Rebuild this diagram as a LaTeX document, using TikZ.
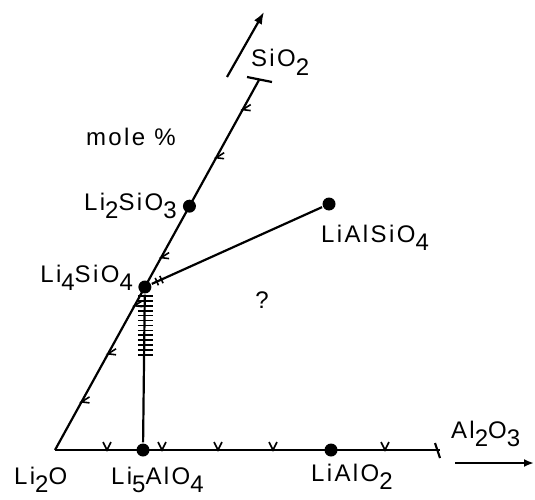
\documentclass[tikz,border=0pt]{standalone}
\usepackage{fontspec}
\setmainfont{Liberation Sans}[LetterSpace=10]
\usetikzlibrary{calc,arrows.meta}
\newcommand\sub[1]{\raisebox{-0.36em}{#1}}

\begin{document}
\begin{tikzpicture}[
	x=1pt, y=1pt,
	line width=2.2pt,
	every node/.style = {font=\fontsize{24}{24}\selectfont, inner sep=0pt},
	phase/.style      = {circle, fill=black, minimum size=13pt, inner sep=0pt},
	chem/.style       = {anchor=base west},
	thin tick/.style  = {line width=1.6pt},
	vmark/.pic        = {\draw[thin tick] (-4,8) -- (0,0) -- (4,8);},
	lmark/.pic        = {\draw[thin tick] (8,5) -- (0,0) -- (8,-1);}
	]
	\useasboundingbox (0,0) rectangle (535,499);
	
	% ===================== Axes =====================
	\coordinate (li2o)  at (55,49);
	\coordinate (sio2)  at (259,419);
	\coordinate (al2o3) at (440,49);
	
	\draw (li2o) -- (sio2);
	\draw (li2o) -- (al2o3);
	\draw ([shift={(-12,3)}]sio2) -- ([shift={(13,-2)}]sio2);
	\draw ([shift={(-5,7)}]al2o3) -- ([shift={(0,-8)}]al2o3);
	
	\foreach \t in {0.13,0.26,0.39,0.52,0.79,0.92}
		\pic at ($(li2o)!\t!(sio2)$) {lmark};
	\foreach \x in {107,162,218,273,385}
		\pic at (\x,49) {vmark};
	
	% ===================== Phases =====================
	\node[phase] (li2sio3)  at ($(li2o)!0.659!(sio2)$) {};
	\node[phase] (li4sio4)  at ($(li2o)!0.4405!(sio2)$) {};
	\node[phase] (lialsio4) at (329,295) {};
	\node[phase] (li5alo4)  at (143,49) {};
	\node[phase] (lialo2)   at (331,49) {};
	
	\draw (li4sio4) -- (lialsio4);
	\draw (li4sio4) -- (li5alo4);
	
	% hatching below Li4SiO4
	\foreach \k in {0,...,12}
		\draw[thin tick] ($(li4sio4.center)+(-7,-9-4.9*\k)$) -- ++(15,0);
	\foreach \t in {0.065,0.09}
		\draw[thin tick] ($(li4sio4.center)!\t!(lialsio4.center)+(114:4)$) -- ++(-66:8);
	
	% ===================== Labels =====================
	\node[chem] (lsio2)     at (250,432) {SiO\sub{2}};
	\node[chem] (lmole)     at (85,354)  {mole \%};
	\node[chem] (lli2sio3)  at (83,289)  {Li\sub{2}SiO\sub{3}};
	\node[anchor=base east] (lli4sio4) at (134,217) {Li\sub{4}SiO\sub{4}};
	\node[chem] (llialsio4) at (320,257) {LiAlSiO\sub{4}};
	\node (lquery) at (262,199) {?};
	\node[chem] (lli2o)     at (13,15)   {Li\sub{2}O};
	\node[chem] (lli5alo4)  at (110,15)  {Li\sub{5}AlO\sub{4}};
	\node[chem] (llialo2)   at (310,18)  {LiAlO\sub{2}};
	\node[chem] (lal2o3)    at (450,61)  {Al\sub{2}O\sub{3}};
	
	% ===================== Direction arrows =====================
	\coordinate (sarrA) at (227,422);
	\coordinate (sarrB) at (264,487);
	\coordinate (aarrA) at (455,36);
	\coordinate (aarrB) at (534,36);
	\draw[-{Latex[length=12pt,width=9pt]}] (sarrA) -- (sarrB);
	\draw[-{Latex[length=10pt,width=8pt]}] (aarrA) -- (aarrB);
	
\end{tikzpicture}
\end{document}
